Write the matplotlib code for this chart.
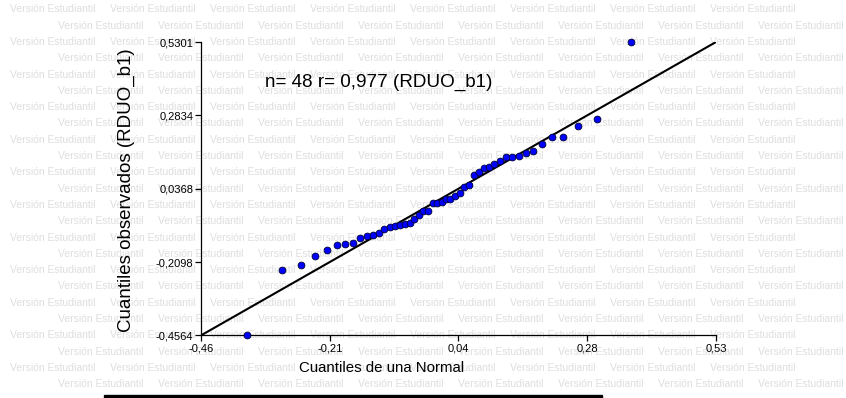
import matplotlib
matplotlib.use("Agg")
import matplotlib.pyplot as plt
from matplotlib.patches import Rectangle

plt.rcParams['font.family'] = ['Liberation Sans', 'DejaVu Sans']

# Theoretical normal quantiles (x) and sorted observed residuals (y)
normal_quantiles = [
    -0.3677, -0.3020, -0.2648, -0.2376, -0.2156, -0.1968, -0.1805, -0.1654,
    -0.1519, -0.1393, -0.1275, -0.1161, -0.1053, -0.0951, -0.0850, -0.0755,
    -0.0660, -0.0568, -0.0477, -0.0390, -0.0302, -0.0215, -0.0129, -0.0043,
    0.0043, 0.0129, 0.0215, 0.0302, 0.0390, 0.0477, 0.0568, 0.0660,
    0.0755, 0.0850, 0.0951, 0.1053, 0.1161, 0.1275, 0.1393, 0.1519,
    0.1654, 0.1805, 0.1968, 0.2156, 0.2376, 0.2648, 0.3020, 0.3677,
]
observed_quantiles = [
    -0.4564, -0.2365, -0.2206, -0.1884, -0.1692, -0.1524, -0.1490, -0.1467,
    -0.1278, -0.1221, -0.1178, -0.1110, -0.0986, -0.0929, -0.0895, -0.0840,
    -0.0830, -0.0794, -0.0643, -0.0532, -0.0375, -0.0365, -0.0112, -0.0105,
    -0.0072, 0.0016, 0.0020, 0.0107, 0.0218, 0.0433, 0.0500, 0.0823,
    0.0924, 0.1055, 0.1088, 0.1189, 0.1290, 0.1441, 0.1445, 0.1468,
    0.1569, 0.1630, 0.1872, 0.2117, 0.2122, 0.2487, 0.2702, 0.5301,
]

tick_values = [-0.4564, -0.2098, 0.0368, 0.2834, 0.5301]
x_tick_labels = ["-0,46", "-0,21", "0,04", "0,28", "0,53"]
y_tick_labels = ["-0,4564", "-0,2098", "0,0368", "0,2834", "0,5301"]
axis_range = [-0.4564, 0.5301]

annotation = "n= 48 r= 0,977 (RDUO_b1)"
watermark = "Versión Estudiantil"

W, H = 846, 398
fig = plt.figure(figsize=(W / 100, H / 100), dpi=100)

# Background layer with the repeated watermark
bg = fig.add_axes([0, 0, 1, 1], zorder=-1)
bg.set_xlim(0, W)
bg.set_ylim(H, 0)
bg.axis("off")
for row in range(24):
    y = 9.3 + row * 16.3
    x0 = 9.5 if row % 2 == 0 else 58.5
    for k in range(8):
        bg.text(x0 + k * 100, y, watermark, fontsize=7.5, color="#dedede",
                ha="left", va="center")
bg.add_patch(Rectangle((104, 394.5), 498, 3.5, color="black"))

ax = fig.add_axes([201 / W, (H - 335.4) / H, 515 / W, 293.4 / H])
ax.patch.set_alpha(0)
ax.set_xlim(axis_range)
ax.set_ylim(axis_range)

ax.plot(axis_range, axis_range, color="black", lw=1.5, zorder=2)
ax.plot(normal_quantiles, observed_quantiles, "o", ms=4.9, mfc="#0000ff",
        mec="#000033", mew=0.6, zorder=3, clip_on=False)

for s in ["top", "right"]:
    ax.spines[s].set_visible(False)
for s in ["left", "bottom"]:
    ax.spines[s].set_linewidth(0.9)

ax.set_xticks(tick_values)
ax.set_xticklabels(x_tick_labels)
ax.set_yticks(tick_values)
ax.set_yticklabels(y_tick_labels)
ax.tick_params(axis="both", labelsize=8, length=4, width=0.9, pad=1.5,
               direction="out")

fig.text(381.7 / W, 1 - 368 / H, "Cuantiles de una Normal", fontsize=10.8,
         ha="center", va="center")
fig.text(126 / W, 1 - 190 / H, "Cuantiles observados (RDUO_b1)", fontsize=13.5,
         rotation=90, ha="center", va="center")
fig.text(265 / W, 1 - 82 / H, annotation, fontsize=13.6, ha="left",
         va="center")

fig.savefig("out.png", dpi=100)
